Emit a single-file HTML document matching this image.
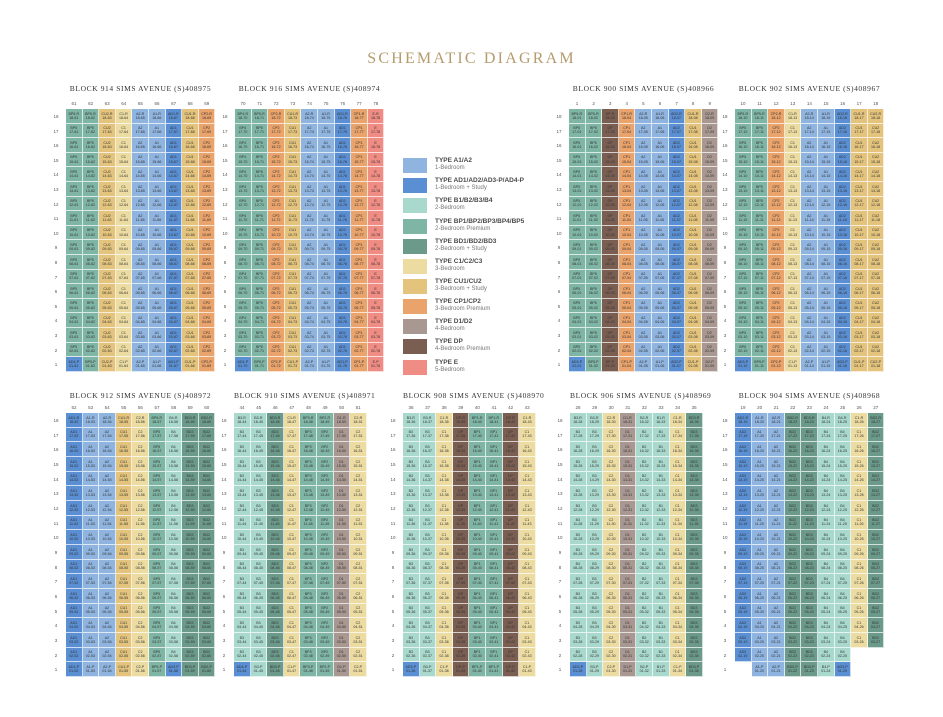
<!DOCTYPE html>
<html><head><meta charset="utf-8">
<style>
body{margin:0;background:#fff;width:943px;height:717px;position:relative;overflow:hidden;font-family:"Liberation Sans",sans-serif}
.t{position:absolute;white-space:nowrap;color:#555}
.title{left:0;width:943px;text-align:center;top:50px;font-family:"Liberation Serif",serif;font-size:16px;letter-spacing:2.2px;color:#b59b6c}
.bt{font-family:"Liberation Serif",serif;font-size:7.5px;letter-spacing:.6px;color:#333;text-align:center}
.c{position:absolute;box-sizing:border-box;border-right:1px solid rgba(255,255,255,.7);border-bottom:1px solid rgba(255,255,255,.7);font-size:3.6px;line-height:4.2px;text-align:center;color:#333;padding-top:2.5px;overflow:hidden}
.n{position:absolute;font-size:4.5px;color:#555;text-align:center;width:16px}
.sw{position:absolute;left:403px;width:24px;height:15px}
.lt{position:absolute;left:435px;font-size:6.5px;font-weight:bold;color:#4a4a4a}
.ls{position:absolute;left:435px;font-size:6px;color:#777}
</style></head><body>
<div class="t title">SCHEMATIC DIAGRAM</div>
<div id="root"></div>
<div class="sw" style="top:158px;background:#8fb4df"></div><div class="lt" style="top:157px">TYPE A1/A2</div><div class="ls" style="top:165px">1-Bedroom</div>
<div class="sw" style="top:178px;background:#5a8fd3"></div><div class="lt" style="top:177px">TYPE AD1/AD2/AD3-P/AD4-P</div><div class="ls" style="top:185px">1-Bedroom + Study</div>
<div class="sw" style="top:198px;background:#a9d9cd"></div><div class="lt" style="top:197px">TYPE B1/B2/B3/B4</div><div class="ls" style="top:205px">2-Bedroom</div>
<div class="sw" style="top:219px;background:#7fb5a4"></div><div class="lt" style="top:218px">TYPE BP1/BP2/BP3/BP4/BP5</div><div class="ls" style="top:226px">2-Bedroom Premium</div>
<div class="sw" style="top:239px;background:#6b9a8b"></div><div class="lt" style="top:238px">TYPE BD1/BD2/BD3</div><div class="ls" style="top:246px">2-Bedroom + Study</div>
<div class="sw" style="top:259px;background:#ecdca1"></div><div class="lt" style="top:258px">TYPE C1/C2/C3</div><div class="ls" style="top:266px">3-Bedroom</div>
<div class="sw" style="top:279px;background:#e4c47c"></div><div class="lt" style="top:278px">TYPE CU1/CU2</div><div class="ls" style="top:286px">3-Bedroom + Study</div>
<div class="sw" style="top:299px;background:#e9a36b"></div><div class="lt" style="top:298px">TYPE CP1/CP2</div><div class="ls" style="top:306px">3-Bedroom Premium</div>
<div class="sw" style="top:319px;background:#a99791"></div><div class="lt" style="top:318px">TYPE D1/D2</div><div class="ls" style="top:326px">4-Bedroom</div>
<div class="sw" style="top:339px;background:#7b5e52"></div><div class="lt" style="top:338px">TYPE DP</div><div class="ls" style="top:346px">4-Bedroom Premium</div>
<div class="sw" style="top:360px;background:#ef8c83"></div><div class="lt" style="top:359px">TYPE E</div><div class="ls" style="top:367px">5-Bedroom</div>

<div class="t bt" style="left:66px;width:149px;top:84px">BLOCK 914 SIMS AVENUE (S)408975</div>
<div class="t bt" style="left:235px;width:149px;top:84px">BLOCK 916 SIMS AVENUE (S)408974</div>
<div class="t bt" style="left:569px;width:149px;top:84px">BLOCK 900 SIMS AVENUE (S)408966</div>
<div class="t bt" style="left:735px;width:149px;top:84px">BLOCK 902 SIMS AVENUE (S)408967</div>
<div class="t bt" style="left:66px;width:149px;top:391px">BLOCK 912 SIMS AVENUE (S)408972</div>
<div class="t bt" style="left:234px;width:133px;top:391px">BLOCK 910 SIMS AVENUE (S)408971</div>
<div class="t bt" style="left:403px;width:133px;top:391px">BLOCK 908 SIMS AVENUE (S)408970</div>
<div class="t bt" style="left:570px;width:133px;top:391px">BLOCK 906 SIMS AVENUE (S)408969</div>
<div class="t bt" style="left:735px;width:149px;top:391px">BLOCK 904 SIMS AVENUE (S)408968</div>
<script>
var col={A:"#8fb4df",AD:"#5a8fd3",B:"#a9d9cd",BP:"#7fb5a4",BD:"#6b9a8b",C:"#ecdca1",CU:"#e4c47c",CP:"#e9a36b",D:"#a99791",DP:"#7b5e52",E:"#ef8c83"};
function cat(n){return n.replace(/[0-9].*$/,"").replace(/-.*/,"");}
var W=16.6;
var blocks=[
 {x:66,y:109,h:14.6,s:61,c:["BP5","BP5","CU2","C1","A2","A1","AD1","CU1","CP2"],r1:{0:"AD4"}},
 {x:235,y:109,h:14.6,s:70,c:["BP4","BP5","CP2","CU1","A2","A1","AD1","CP1","E"],r1:{0:"AD4"}},
 {x:569,y:109,h:14.6,s:1,c:["BP5","BP5","DP","CP1","A2","A1","AD2","CU1","D2"],r1:{0:"AD3"}},
 {x:735,y:109,h:14.6,s:10,c:["BP5","BP5","CP2","C1","A2","A1","AD2","CU1","CU2"],r1:{0:"AD3"}},
 {x:66,y:413,h:14.67,s:52,c:["AD1","A1","A2","CU1","C2","BP5","B4","BD3","BD2"],r1:{6:"AD3"}},
 {x:234,y:413,h:14.67,s:44,c:["B3","B3","BD3","C1","BP3","BP2","D1","C2"],r1:{0:"AD4"}},
 {x:403,y:413,h:14.67,s:36,c:["B3","B3","C1","DP","BP1","BP1","DP","C1"],r1:{0:"AD3"}},
 {x:570,y:413,h:14.67,s:28,c:["B3","B3","C2","D1","B2","B1","C1","BD3"],r1:{0:"AD3"}},
 {x:735,y:413,h:14.67,s:19,c:["AD2","A1","A2","BD2","BD3","B4","B4","C1","BD2"],r1:{6:"AD3"},skip:function(ci,r){return (ci==0&&r==1)||((ci==7||ci==8)&&r<3);}}
];
var h="";
blocks.forEach(function(b){
 for(var ci=0;ci<b.c.length;ci++){
  h+='<div class="n" style="left:'+(b.x+ci*W)+'px;top:'+(b.y-8)+'px">'+(b.s+ci)+'</div>';
 }
 for(var r=18;r>=1;r--){
  var top=b.y+(18-r)*b.h;
  h+='<div class="n" style="left:'+(b.x-14)+'px;width:8px;top:'+(top+5)+'px">'+r+'</div>';
  for(ci=0;ci<b.c.length;ci++){
   if(b.skip&&b.skip(ci,r))continue;
   var name=b.c[ci];
   if(r==1&&b.r1[ci])name=b.r1[ci];
   var lbl=name+(r==18?"-R":r==1?"-P":"");
   var num=(r<10?"0":"")+r+"-"+(b.s+ci<10?"0":"")+(b.s+ci);
   h+='<div class="c" style="left:'+(b.x+ci*W)+'px;top:'+top+'px;width:'+W+'px;height:'+b.h+'px;background:'+col[cat(name)]+'">'+lbl+'<br>'+num+'</div>';
  }
 }
});
document.getElementById("root").innerHTML=h;
</script>
</body></html>
